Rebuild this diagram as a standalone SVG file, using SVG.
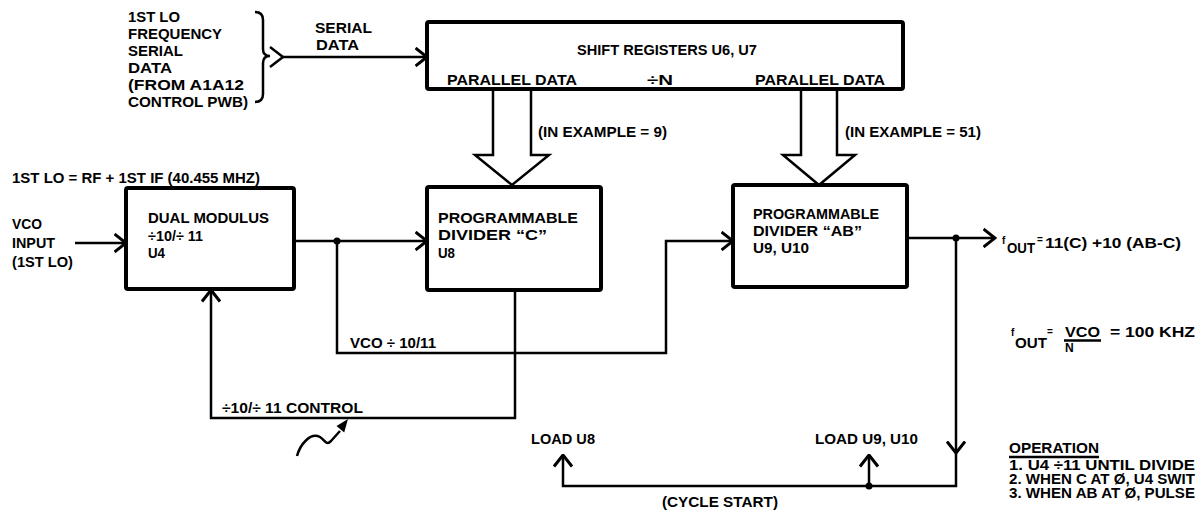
<svg xmlns="http://www.w3.org/2000/svg" width="1197" height="512" viewBox="0 0 1197 512">
<style>
.t{font-family:"Liberation Sans",Arial,Helvetica,sans-serif;font-weight:bold;font-size:15px;fill:#000}
.m{font-size:14px}
.n{font-size:12px}
.s{font-size:10px}
.box{fill:#fff;stroke:#000;stroke-width:4}
.ln{fill:none;stroke:#000;stroke-width:2.5;stroke-linejoin:miter}
.hol{fill:#fff;stroke:#000;stroke-width:2.5;stroke-linejoin:miter}
.dot{fill:#000}
</style>
<defs>
<marker id="arr" viewBox="0 0 14 20" refX="12.5" refY="10" markerWidth="14" markerHeight="20" markerUnits="userSpaceOnUse" orient="auto">
<path d="M1,1 L12.5,10 L1,19" fill="none" stroke="#000" stroke-width="3"/>
</marker>
</defs>
<rect width="1197" height="512" fill="#fff"/>

<g id="connectors">
<path class="ln" d="M255,12 Q263,12 263,20 L263,49 Q263,56 270,56 Q263,56 263,63 L263,94 Q263,102 255,102"/>
<path class="ln" d="M270,47 L283,57 L270,67"/>
<path class="ln" d="M283,57 H427" marker-end="url(#arr)"/>
<path class="hol" d="M493,91 V155 H475 L512,185 L549,155 H531 V91"/>
<path class="hol" d="M801,91 V155 H783 L819,185 L855,155 H837 V91"/>
<path class="ln" d="M75,243 H126" marker-end="url(#arr)"/>
<path class="ln" d="M294,241 H427" marker-end="url(#arr)"/>
<path class="ln" d="M337,241 V353 H666 V241 H733" marker-end="url(#arr)"/>
<path class="ln" d="M515,290 V418 H211 V290" marker-end="url(#arr)"/>
<path class="ln" d="M907,238 H995" marker-end="url(#arr)"/>
<path class="ln" d="M956,238 V453" marker-end="url(#arr)"/>
<path class="ln" d="M956,453 V486 H563 V455" marker-end="url(#arr)"/>
<path class="ln" d="M869,486 V455" marker-end="url(#arr)"/>
<circle class="dot" cx="337" cy="241" r="3.5"/>
<circle class="dot" cx="956" cy="238" r="3.5"/>
<circle class="dot" cx="869" cy="486" r="3.5"/>
<path class="ln" d="M297,456 C300,445 310,432 320,437 C325,440 326,446 331,441 L340,431"/>
<path class="dot" d="M348,419 L336.5,426 L344.2,432.4 Z"/>
</g>

<g id="n-source">
<text class="t" x="128" y="22" textLength="52" lengthAdjust="spacingAndGlyphs">1ST LO</text>
<text class="t" x="128" y="39" textLength="94" lengthAdjust="spacingAndGlyphs">FREQUENCY</text>
<text class="t" x="128" y="56" textLength="55" lengthAdjust="spacingAndGlyphs">SERIAL</text>
<text class="t" x="128" y="73" textLength="44" lengthAdjust="spacingAndGlyphs">DATA</text>
<text class="t" x="128" y="90" textLength="116" lengthAdjust="spacingAndGlyphs">(FROM A1A12</text>
<text class="t" x="128" y="107" textLength="120" lengthAdjust="spacingAndGlyphs">CONTROL PWB)</text>
<text class="t" x="315" y="33" textLength="57" lengthAdjust="spacingAndGlyphs">SERIAL</text>
<text class="t" x="316" y="50" textLength="43" lengthAdjust="spacingAndGlyphs">DATA</text>
</g>

<g id="n-shift">
<rect class="box" x="427" y="22" width="476" height="67" rx="2"/>
<text class="t" x="577" y="55" textLength="180" lengthAdjust="spacingAndGlyphs">SHIFT REGISTERS U6, U7</text>
<text class="t" x="447" y="85" textLength="130" lengthAdjust="spacingAndGlyphs">PARALLEL DATA</text>
<text class="t" x="647" y="85" textLength="26" lengthAdjust="spacingAndGlyphs">÷N</text>
<text class="t" x="755" y="85" textLength="130" lengthAdjust="spacingAndGlyphs">PARALLEL DATA</text>
<text class="t" x="538" y="137" textLength="129" lengthAdjust="spacingAndGlyphs">(IN EXAMPLE = 9)</text>
<text class="t" x="845" y="137" textLength="136" lengthAdjust="spacingAndGlyphs">(IN EXAMPLE = 51)</text>
</g>

<g id="n-vco">
<text class="t" x="12" y="183" textLength="248" lengthAdjust="spacingAndGlyphs">1ST LO = RF + 1ST IF (40.455 MHZ)</text>
<text class="t" x="12" y="229" textLength="30" lengthAdjust="spacingAndGlyphs">VCO</text>
<text class="t" x="12" y="248" textLength="43" lengthAdjust="spacingAndGlyphs">INPUT</text>
<text class="t" x="12" y="267" textLength="61" lengthAdjust="spacingAndGlyphs">(1ST LO)</text>
</g>

<g id="n-dual">
<rect class="box" x="126" y="188" width="168" height="101" rx="2"/>
<text class="t" x="148" y="223" textLength="121" lengthAdjust="spacingAndGlyphs">DUAL MODULUS</text>
<text class="t" x="148" y="241" textLength="55" lengthAdjust="spacingAndGlyphs">÷10/÷ 11</text>
<text class="t" x="148" y="258" textLength="17" lengthAdjust="spacingAndGlyphs">U4</text>
</g>

<g id="n-divc">
<rect class="box" x="427" y="187" width="174" height="103" rx="2"/>
<text class="t" x="438" y="223" textLength="140" lengthAdjust="spacingAndGlyphs">PROGRAMMABLE</text>
<text class="t" x="438" y="240" textLength="109" lengthAdjust="spacingAndGlyphs">DIVIDER “C”</text>
<text class="t" x="438" y="258" textLength="17" lengthAdjust="spacingAndGlyphs">U8</text>
</g>

<g id="n-divab">
<rect class="box" x="733" y="185" width="174" height="102" rx="2"/>
<text class="t" x="753" y="219" textLength="126" lengthAdjust="spacingAndGlyphs">PROGRAMMABLE</text>
<text class="t" x="753" y="236" textLength="109" lengthAdjust="spacingAndGlyphs">DIVIDER “AB”</text>
<text class="t" x="753" y="253" textLength="56" lengthAdjust="spacingAndGlyphs">U9, U10</text>
</g>

<g id="labels">
<text class="t" x="350" y="348" textLength="86" lengthAdjust="spacingAndGlyphs">VCO ÷ 10/11</text>
<text class="t" x="222" y="413" textLength="141" lengthAdjust="spacingAndGlyphs">÷10/÷ 11 CONTROL</text>
<text class="t" x="531" y="444" textLength="64" lengthAdjust="spacingAndGlyphs">LOAD U8</text>
<text class="t" x="815" y="444" textLength="103" lengthAdjust="spacingAndGlyphs">LOAD U9, U10</text>
<text class="t" x="662" y="507" textLength="116" lengthAdjust="spacingAndGlyphs">(CYCLE START)</text>
<text class="t s" x="1002" y="244">f</text>
<text class="t" x="1007" y="253" textLength="28" lengthAdjust="spacingAndGlyphs">OUT</text>
<text class="t s" x="1037" y="243">=</text>
<text class="t m" x="1045" y="248" textLength="136" lengthAdjust="spacingAndGlyphs">11(C) +10 (AB-C)</text>
<text class="t s" x="1011" y="336">f</text>
<text class="t" x="1015" y="348" textLength="32" lengthAdjust="spacingAndGlyphs">OUT</text>
<text class="t s" x="1047" y="335">=</text>
<text class="t m" x="1065" y="337" textLength="35" lengthAdjust="spacingAndGlyphs">VCO</text>
<path class="ln" d="M1064,340.5 H1101" stroke-width="2"/>
<text class="t n" x="1065" y="352">N</text>
<text class="t m" x="1110" y="337" textLength="85" lengthAdjust="spacingAndGlyphs">= 100 KHZ</text>
</g>

<g id="n-operation">
<text class="t m" x="1009" y="453" textLength="90" lengthAdjust="spacingAndGlyphs">OPERATION</text>
<path class="ln" d="M1009,457 H1099" stroke-width="2"/>
<text class="t m" x="1009" y="470" textLength="186" lengthAdjust="spacingAndGlyphs">1.  U4 ÷11 UNTIL DIVIDE</text>
<text class="t m" x="1009" y="484" textLength="186" lengthAdjust="spacingAndGlyphs">2.  WHEN C AT Ø, U4 SWIT</text>
<text class="t m" x="1009" y="498" textLength="186" lengthAdjust="spacingAndGlyphs">3.  WHEN AB AT Ø, PULSE</text>
</g>
</svg>
